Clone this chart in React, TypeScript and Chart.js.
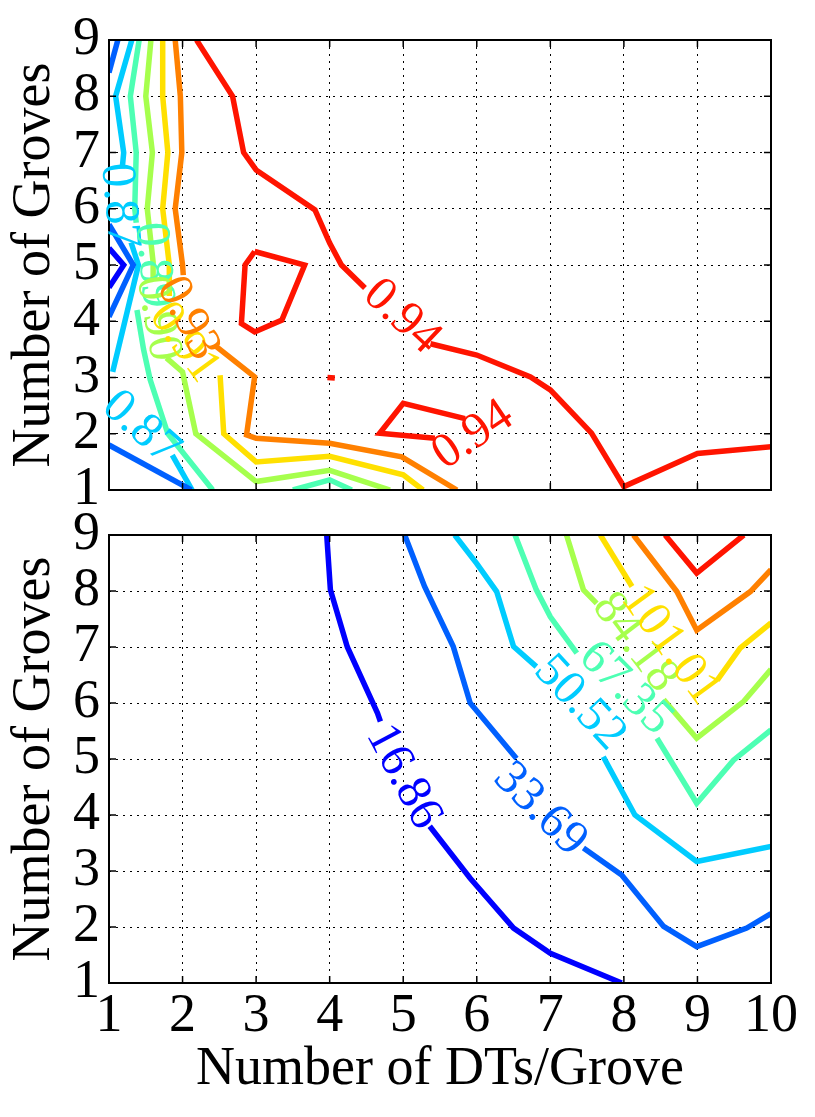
import React, { useEffect, useRef } from "react";
import { Chart, registerables } from "chart.js";

Chart.register(...registerables);

type Pt = [number, number];

// ---- axes ----
const xTicks = [1, 2, 3, 4, 5, 6, 7, 8, 9, 10];
const yTicks = [1, 2, 3, 4, 5, 6, 7, 8, 9];
const xTitle = "Number of DTs/Grove";
const yTitle = "Number of Groves";

// ---- contour levels (jet colours, low -> high) ----
const levelColors = ["#0000ff", "#0060ff", "#00ccff", "#4dffb3", "#a6ff4d", "#ffe000", "#ff8000", "#ff1400"];
const topLevelText = ["0.85", "0.86", "0.87", "0.89", "0.90", "0.91", "0.93", "0.94"];
const bottomLevelText = ["16.86", "33.69", "50.52", "67.35", "84.18", "101.01", "117.84", "134.67"];

// ---- top panel contour paths (x = DTs/Grove, y = Groves) ----
const topL0: Pt[][] = [[[1, 5.3], [1.2, 5.0], [1, 4.6]]];
const topL1: Pt[][] = [
  [[1.12, 9], [1, 8.42]],
  [[1, 5.72], [1.33, 5.0], [1, 4.08]],
  [[1, 1.8], [2.12, 1.0]],
];
const topL2: Pt[][] = [
  [[1.31, 9], [1.09, 8.0], [1.2, 7.0], [1.18, 6.72]],
  [[1.3, 5.4], [1.4, 5.0], [1.05, 3.1]],
  [[1.86, 1.62], [2.13, 1.0]],
];
const topL3: Pt[][] = [
  [[1.41, 9], [1.29, 8.0], [1.37, 7.0], [1.35, 6.0], [1.37, 5.75]],
  [[1.38, 4.2], [1.47, 3.5], [1.56, 2.96], [1.8, 2.0], [2.41, 1.0]],
  [[3.5, 1.0], [4.0, 1.18], [4.3, 1.0]],
];
const topL4: Pt[][] = [
  [[1.57, 9], [1.5, 8.0], [1.59, 7.0], [1.52, 6.0], [1.6, 5.05], [1.6, 4.75]],
  [[1.78, 3.35], [2.0, 3.1], [2.18, 2.0], [3.0, 1.15], [4.0, 1.35], [4.82, 1.0]],
];
const topL5: Pt[][] = [
  [[1.73, 9], [1.73, 8.0], [1.8, 7.0], [1.73, 6.0], [1.82, 5.0], [1.82, 4.45]],
  [[2.51, 3.04], [2.56, 2.0], [3.0, 1.5], [4.0, 1.6], [5.0, 1.27], [5.27, 1.0]],
];
const topL6: Pt[][] = [
  [[1.9, 9], [1.97, 8.0], [1.99, 7.0], [1.9, 6.0], [2.0, 5.0], [2.01, 4.82]],
  [[2.46, 3.55], [2.98, 3.01], [2.87, 1.98], [3.0, 1.92], [4.0, 1.83], [4.98, 1.59], [5.73, 1.0]],
];
const topL7: Pt[][] = [
  [[2.19, 9], [2.68, 8.0], [2.83, 7.0], [3.0, 6.69], [3.8, 5.98], [4.0, 5.39], [4.16, 5.0], [4.48, 4.59]],
  [[5.37, 3.6], [6.0, 3.4], [6.73, 3.01], [7.0, 2.78], [7.56, 2.01], [8.0, 1.06], [9.0, 1.65], [10, 1.77]],
  [[2.98, 5.24], [2.85, 5.0], [2.8, 3.96], [2.98, 3.81], [3.35, 4.02], [3.66, 5.0], [2.98, 5.24]],
  [[3.97, 3.0], [4.07, 2.99]],
  [[5.84, 2.27], [5.0, 2.54], [4.68, 2.01], [5.43, 1.92]],
];
const topLevels = [topL0, topL1, topL2, topL3, topL4, topL5, topL6, topL7];

// contour labels: level index, position (data units), rotation (deg)
const topLabelLevel = [2, 3, 4, 5, 6, 7, 7, 2];
const topLabelX = [1.135, 1.6, 1.66, 2.02, 2.07, 4.98, 5.95, 1.43];
const topLabelY = [6.05, 5.0, 4.05, 3.62, 4.05, 4.08, 1.97, 2.1];
const topLabelAngle = [85, 85, 80, 54, 63, 43, -34, 42];

// ---- bottom panel contour paths ----
const botL0: Pt[][] = [
  [[3.96, 9], [4.01, 8.02], [4.24, 7.0], [4.65, 5.82], [4.69, 5.67]],
  [[5.36, 3.8], [5.91, 2.87], [6.5, 1.98], [7.0, 1.53], [7.97, 1.0]],
];
const botL1: Pt[][] = [
  [[5.02, 9], [5.29, 8.08], [5.68, 7.01], [5.91, 6.0], [6.54, 5.01]],
  [[7.45, 3.41], [7.97, 2.93], [8.54, 2.01], [8.99, 1.65], [9.67, 1.98], [10, 2.24]],
];
const botL2: Pt[][] = [
  [[5.7, 9], [6.0, 8.49], [6.27, 7.99], [6.5, 7.01], [6.81, 6.65]],
  [[7.72, 5.04], [8.15, 4.0], [8.99, 3.17], [10, 3.44]],
];
const botL3: Pt[][] = [
  [[6.52, 9], [6.81, 8.02], [7.0, 7.54], [7.36, 6.89]],
  [[8.45, 5.37], [8.99, 4.21], [9.49, 4.98], [10, 5.52]],
];
const botL4: Pt[][] = [
  [[7.22, 9], [7.45, 8.02], [7.63, 7.78]],
  [[8.54, 6.06], [8.99, 5.37], [9.63, 6.03], [10, 6.6]],
];
const botL5: Pt[][] = [
  [[7.68, 9], [8.11, 8.08]],
  [[9.27, 6.41], [9.58, 6.98], [10, 7.43]],
];
const botL6: Pt[][] = [[[8.13, 9], [8.72, 7.99], [8.99, 7.3], [9.72, 7.99], [10, 8.38]]];
const botL7: Pt[][] = [[[8.56, 9], [8.99, 8.32], [9.63, 9]]];
const bottomLevels = [botL0, botL1, botL2, botL3, botL4, botL5, botL6, botL7];

const botLabelLevel = [0, 1, 2, 3, 4, 5];
const botLabelX = [5.0, 6.86, 7.4, 8.02, 8.15, 8.63];
const botLabelY = [4.68, 4.1, 6.0, 6.26, 7.08, 7.03];
const botLabelAngle = [62, 45, 47, 45, 53, 54];

const FONT = '"Liberation Serif", "Times New Roman", serif';

function buildDatasets(levels: Pt[][][]) {
  const ds: any[] = [];
  levels.forEach((paths, li) => {
    paths.forEach((path) => {
      ds.push({
        data: path.map(([x, y]) => ({ x, y })),
        showLine: true,
        pointRadius: 0,
        borderColor: levelColors[li],
        borderWidth: 5.5,
        borderJoinStyle: "miter",
        tension: 0,
        fill: false,
        clip: 0,
      });
    });
  });
  return ds;
}

function overlay(levelText: string[], lv: number[], lx: number[], ly: number[], la: number[]) {
  return {
    id: "overlay",
    afterDatasetsDraw(chart: any) {
      const { ctx, chartArea: a } = chart;
      const xs = chart.scales.x;
      const ys = chart.scales.y;
      ctx.save();
      ctx.setLineDash([]);
      ctx.strokeStyle = "#000";
      ctx.lineWidth = 1.5;
      const tl = 7;
      const seg = (x1: number, y1: number, x2: number, y2: number) => {
        ctx.beginPath();
        ctx.moveTo(x1, y1);
        ctx.lineTo(x2, y2);
        ctx.stroke();
      };
      xTicks.forEach((v) => {
        const p = xs.getPixelForValue(v);
        seg(p, a.bottom, p, a.bottom - tl);
        seg(p, a.top, p, a.top + tl);
      });
      yTicks.forEach((v) => {
        const p = ys.getPixelForValue(v);
        seg(a.left, p, a.left + tl, p);
        seg(a.right, p, a.right - tl, p);
      });
      ctx.lineWidth = 2;
      ctx.strokeRect(a.left, a.top, a.right - a.left, a.bottom - a.top);
      ctx.font = `49px ${FONT}`;
      ctx.textAlign = "center";
      ctx.textBaseline = "middle";
      lv.forEach((level, i) => {
        const px = xs.getPixelForValue(lx[i]);
        const py = ys.getPixelForValue(ly[i]);
        ctx.save();
        ctx.translate(px, py);
        ctx.rotate((la[i] * Math.PI) / 180);
        ctx.fillStyle = levelColors[level];
        ctx.fillText(levelText[level], 0, 0);
        ctx.restore();
      });
      ctx.restore();
    },
  };
}

function makeOptions(bottom: boolean): any {
  const gridCommon = { color: "#000", lineWidth: 1, drawTicks: false };
  const borderCommon = { display: false, dash: [2, 5] };
  return {
    responsive: false,
    animation: false,
    events: [],
    layout: { padding: { left: 0, right: 44, top: bottom ? 25 : 40, bottom: bottom ? 0 : 20 } },
    plugins: { legend: { display: false }, tooltip: { enabled: false } },
    scales: {
      x: {
        type: "linear",
        min: 1,
        max: 10,
        afterBuildTicks: (s: any) => {
          s.ticks = xTicks.map((v) => ({ value: v }));
        },
        ticks: {
          display: bottom,
          color: "#000",
          font: { family: FONT, size: 54 },
          padding: 1,
          maxRotation: 0,
          autoSkip: false,
          callback: (v: any) => String(v),
        },
        grid: gridCommon,
        border: borderCommon,
        title: {
          display: bottom,
          text: xTitle,
          color: "#000",
          font: { family: FONT, size: 54 },
          padding: { top: 0, bottom: 15 },
        },
        afterFit: (s: any) => {
          s.height = bottom ? 134 : 0;
        },
      },
      y: {
        type: "linear",
        min: 1,
        max: 9,
        afterBuildTicks: (s: any) => {
          s.ticks = yTicks.map((v) => ({ value: v }));
        },
        ticks: {
          color: "#000",
          font: { family: FONT, size: 54, lineHeight: 0.3 },
          padding: 9,
          autoSkip: false,
          callback: (v: any) => String(v),
        },
        grid: gridCommon,
        border: borderCommon,
        title: {
          display: true,
          text: yTitle,
          color: "#000",
          font: { family: FONT, size: 54 },
          padding: { top: 2, bottom: 0 },
        },
        afterFit: (s: any) => {
          s.width = 109;
        },
      },
    },
  };
}

export default function App() {
  const topRef = useRef<HTMLCanvasElement>(null);
  const botRef = useRef<HTMLCanvasElement>(null);

  useEffect(() => {
    const top = new Chart(topRef.current!, {
      type: "scatter",
      data: { datasets: buildDatasets(topLevels) },
      options: makeOptions(false),
      plugins: [overlay(topLevelText, topLabelLevel, topLabelX, topLabelY, topLabelAngle)],
    });
    const bot = new Chart(botRef.current!, {
      type: "scatter",
      data: { datasets: buildDatasets(bottomLevels) },
      options: makeOptions(true),
      plugins: [overlay(bottomLevelText, botLabelLevel, botLabelX, botLabelY, botLabelAngle)],
    });
    return () => {
      top.destroy();
      bot.destroy();
    };
  }, []);

  return (
    <div style={{ position: "fixed", left: 0, top: 0, width: 815, height: 1117, background: "#fff" }}>
      <canvas
        ref={topRef}
        width={815}
        height={510}
        style={{ position: "absolute", left: 0, top: 0, width: 815, height: 510 }}
      />
      <canvas
        ref={botRef}
        width={815}
        height={607}
        style={{ position: "absolute", left: 0, top: 510, width: 815, height: 607 }}
      />
    </div>
  );
}
